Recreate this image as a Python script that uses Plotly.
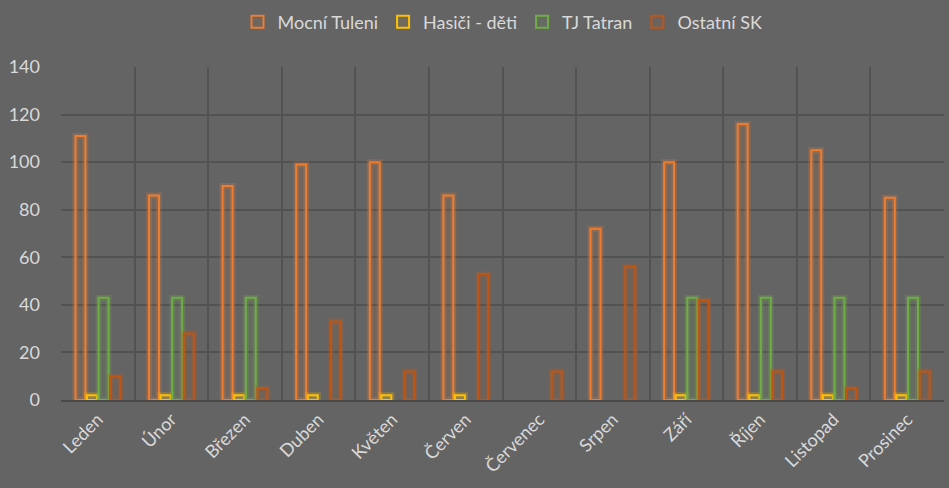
import plotly.graph_objects as go

months = ["Leden", "Únor", "Březen", "Duben", "Květen", "Červen",
          "Červenec", "Srpen", "Září", "Říjen", "Listopad", "Prosinec"]
mocni_tuleni = [111, 86, 90, 99, 100, 86, None, 72, 100, 116, 105, 85]
hasici_deti = [2, 2, 2, 2, 2, 2, None, None, 2, 2, 2, 2]
tj_tatran = [43, 43, 43, None, None, None, None, None, 43, 43, 43, 43]
ostatni_sk = [10, 28, 5, 33, 12, 53, 12, 56, 42, 12, 5, 12]

series = [
    ("Mocní Tuleni", mocni_tuleni, (237, 125, 49)),
    ("Hasiči - děti", hasici_deti, (255, 192, 0)),
    ("TJ Tatran", tj_tatran, (112, 173, 71)),
    ("Ostatní SK", ostatni_sk, (190, 86, 22)),
]

fig = go.Figure()
for name, vals, (r, g, b) in series:
    # soft glow behind each bar
    fig.add_trace(go.Bar(
        x=months, y=vals, name=name + " glow", offsetgroup=name,
        showlegend=False, hoverinfo="skip",
        marker=dict(color="rgba(0,0,0,0)",
                    line=dict(color=f"rgba({r},{g},{b},0.25)", width=6)),
    ))
    fig.add_trace(go.Bar(
        x=months, y=vals, name=name, offsetgroup=name,
        marker=dict(color=f"rgba({r},{g},{b},0.08)",
                    line=dict(color=f"rgb({r},{g},{b})", width=2)),
    ))

bg = "#646464"
grid = "#525252"
txt = "#d9d9d9"
fig.update_layout(
    width=949, height=488,
    paper_bgcolor=bg, plot_bgcolor=bg,
    margin=dict(l=61, r=5, t=67, b=88, autoexpand=False),
    barmode="group", bargap=0.37, bargroupgap=0.14,
    font=dict(family="Lato, Open Sans, sans-serif", size=18, color=txt),
    legend=dict(orientation="h", x=0.5, xanchor="center", y=1.135, yanchor="middle",
                font=dict(size=18, color=txt), itemwidth=30,
                traceorder="normal", bgcolor="rgba(0,0,0,0)"),
    showlegend=True,
)
fig.update_xaxes(
    type="category", tickson="boundaries", showgrid=True, gridcolor=grid, gridwidth=2,
    tickangle=-45, ticks="", showline=True, linecolor="#4a4a4a", linewidth=2,
    tickfont=dict(size=18, color=txt), automargin=False,
)
fig.update_yaxes(
    range=[0, 140], dtick=20, showgrid=True, gridcolor=grid, gridwidth=2,
    zeroline=False, ticks="", ticklabelstandoff=20, automargin=False,
    tickfont=dict(size=18, color=txt),
)
fig.write_html(
    "out.html",
    config={"displayModeBar": False},
    post_script="document.body.style.margin='0';document.body.style.background='#646464';",
)
